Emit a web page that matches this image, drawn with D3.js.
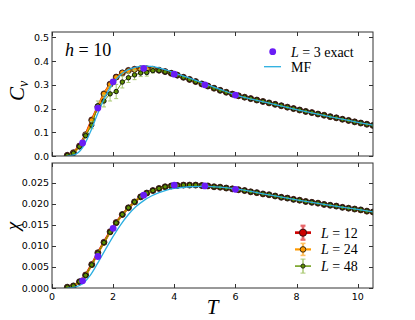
<!DOCTYPE html>
<html><head><meta charset="utf-8">
<script src="https://cdn.jsdelivr.net/npm/d3@7"></script>
<style>body{margin:0;background:#fff}svg{display:block}</style>
</head><body>
<svg id="c" width="415" height="320"></svg>
<script>
// ---------- data ----------
const tMC = [0.5,0.7,0.9,1.1,1.3,1.5,1.7,1.9,2.1,2.3,2.5,2.7,2.9,3.1,3.3,3.5,3.7,3.9,4.1,4.3,4.5,4.7,4.9,5.1,5.3,5.5,5.7,5.9,6.1,6.3,6.5,6.7,6.9,7.1,7.3,7.5,7.7,7.9,8.1,8.3,8.5,8.7,8.9,9.1,9.3,9.5,9.7,9.9,10.1,10.3,10.5];
const cvL12 = [0.003,0.014,0.042,0.090,0.152,0.208,0.262,0.303,0.333,0.350,0.361,0.366,0.368,0.368,0.366,0.362,0.356,0.349,0.341,0.332,0.323,0.314,0.304,0.295,0.286,0.277,0.269,0.261,0.254,0.248,0.242,0.236,0.230,0.224,0.218,0.212,0.206,0.200,0.194,0.188,0.183,0.177,0.172,0.166,0.161,0.155,0.150,0.144,0.139,0.134,0.129];
const cvL24 = [0.002,0.013,0.040,0.088,0.150,0.207,0.262,0.302,0.332,0.352,0.360,0.364,0.366,0.367,0.366,0.362,0.356,0.349,0.341,0.332,0.323,0.314,0.304,0.295,0.286,0.277,0.269,0.261,0.254,0.248,0.242,0.236,0.230,0.224,0.218,0.212,0.206,0.200,0.194,0.188,0.183,0.177,0.172,0.166,0.161,0.155,0.150,0.144,0.139,0.134,0.129];
const cvL48 = [0.002,0.012,0.040,0.086,0.130,0.212,0.232,0.262,0.272,0.312,0.330,0.342,0.350,0.352,0.360,0.360,0.355,0.349,0.341,0.332,0.323,0.314,0.304,0.295,0.286,0.277,0.269,0.261,0.254,0.248,0.242,0.236,0.230,0.224,0.218,0.212,0.206,0.200,0.194,0.188,0.183,0.177,0.172,0.166,0.161,0.155,0.150,0.144,0.139,0.134,0.129];
const cvErr48 = [0.002,0.004,0.006,0.010,0.015,0.020,0.025,0.030,0.030,0.025,0.020,0.020,0.015,0.015,0.010,0.006,0.004,0.003,0.003,0.003,0.003,0.003,0.003,0.003,0.003,0.003,0.003,0.003,0.003,0.003,0.003,0.003,0.003,0.003,0.003,0.003,0.003,0.003,0.003,0.003,0.003,0.003,0.003,0.003,0.003,0.003,0.003,0.003,0.003,0.003,0.003];
const chiL12 = [0.0002,0.0005,0.0015,0.0031,0.0056,0.0084,0.0109,0.0134,0.0156,0.0175,0.0191,0.0205,0.0217,0.0226,0.0232,0.0237,0.0241,0.0243,0.0244,0.0245,0.0245,0.0245,0.0244,0.0243,0.0241,0.0240,0.0238,0.0236,0.0234,0.0232,0.0229,0.0227,0.0224,0.0222,0.0219,0.0216,0.0214,0.0211,0.0209,0.0206,0.0204,0.0202,0.0199,0.0197,0.0195,0.0192,0.0190,0.0188,0.0186,0.0183,0.0181];
const chiL24 = [0.0002,0.0005,0.0015,0.0030,0.0055,0.0083,0.0108,0.0133,0.0155,0.0175,0.0191,0.0205,0.0217,0.0226,0.0232,0.0237,0.0241,0.0243,0.0244,0.0245,0.0245,0.0245,0.0244,0.0243,0.0241,0.0240,0.0238,0.0236,0.0234,0.0232,0.0229,0.0227,0.0224,0.0222,0.0219,0.0216,0.0214,0.0211,0.0209,0.0206,0.0204,0.0202,0.0199,0.0197,0.0195,0.0192,0.0190,0.0188,0.0186,0.0183,0.0181];
const chiL48 = [0.0002,0.0005,0.0015,0.0030,0.0055,0.0083,0.0108,0.0133,0.0155,0.0175,0.0191,0.0205,0.0217,0.0226,0.0232,0.0237,0.0241,0.0243,0.0244,0.0245,0.0245,0.0245,0.0244,0.0243,0.0241,0.0240,0.0238,0.0236,0.0234,0.0232,0.0229,0.0227,0.0224,0.0222,0.0219,0.0216,0.0214,0.0211,0.0209,0.0206,0.0204,0.0202,0.0199,0.0197,0.0195,0.0192,0.0190,0.0188,0.0186,0.0183,0.0181];
const tExact = [1,1.5,2,3,4,5,6];
const cvExact = [0.055,0.202,0.313,0.370,0.345,0.300,0.257];
const chiExact = [0.0017,0.0075,0.0142,0.0221,0.0245,0.0243,0.0235];
const tMF = [0.5,0.75,1.0,1.25,1.5,1.75,2.0,2.25,2.5,2.75,3.0,3.25,3.5,3.75,4.0,4.5,5.0,5.5,6.0,7.0,8.0,9.0,10.0,10.5];
const cvMF = [0.0,0.006,0.035,0.100,0.180,0.252,0.308,0.344,0.364,0.375,0.379,0.378,0.372,0.362,0.351,0.328,0.305,0.281,0.258,0.226,0.196,0.168,0.142,0.130];
const chiMF = [0.0,0.0002,0.0010,0.0030,0.0060,0.0092,0.0123,0.0151,0.0175,0.0194,0.0208,0.0219,0.0227,0.0233,0.0237,0.0241,0.0242,0.0240,0.0236,0.0223,0.0210,0.0198,0.0187,0.0181];
const xTicks = [0,2,4,6,8,10];
const cvTicks = [0.0,0.1,0.2,0.3,0.4,0.5];
const chiTicks = [0.000,0.005,0.010,0.015,0.020,0.025];
const legendTop = [["L"," = 3 exact"],["","MF"]];
const legendBottom = [["L"," = 12"],["L"," = 24"],["L"," = 48"]];

// ---------- styles ----------
const C = {red:"#cc0000", redE:"#e8666a", orange:"#ff9a00", orangeE:"#ffc060", green:"#5f9000", greenE:"#a8c870", purple:"#6a1cf5", cyan:"#2aaee0"};
const svg = d3.select("#c");
const L = 52, R = 373;
const x = d3.scaleLinear().domain([0,10.5]).range([L,R]);
const panels = [
  {top:32, bot:156, y:d3.scaleLinear().domain([0,0.523]).range([156,32]), ticks:cvTicks, fmt:d3.format(".1f"), showX:false,
   series:[cvL12,cvL24,cvL48], err:cvErr48, exact:cvExact, mf:cvMF},
  {top:163, bot:288, y:d3.scaleLinear().domain([0,0.02976]).range([288,163]), ticks:chiTicks, fmt:d3.format(".3f"), showX:true,
   series:[chiL12,chiL24,chiL48], err:null, exact:chiExact, mf:chiMF}
];
const tickFont = "DejaVu Sans, sans-serif";
const styles = [
  {line:C.red, lw:2.4, fill:C.red, r:3.0, lr:3.6, ecol:C.redE, ew:2.2},
  {line:C.orange, lw:1.8, fill:C.orange, r:2.6, lr:2.8, ecol:C.orangeE, ew:1.6},
  {line:C.green, lw:1.0, fill:C.green, r:2.2, lr:2.1, ecol:C.greenE, ew:1.0}
];

panels.forEach((p,pi)=>{
  const g = svg.append("g");
  const clipId = "clip"+pi;
  svg.append("clipPath").attr("id",clipId).append("rect").attr("x",L).attr("y",p.top).attr("width",R-L).attr("height",p.bot-p.top);
  const pg = g.append("g").attr("clip-path",`url(#${clipId})`);
  p.series.forEach((vals,si)=>{
    const st = styles[si];
    const pts = tMC.map((t,i)=>({t, v:vals[i], e: (si===2 && p.err) ? p.err[i] : 0}));
    if (p.err) {
      pts.forEach(d=>{
        const y1 = p.y(d.v - d.e), y2 = p.y(d.v + d.e), xx = x(d.t);
        if (Math.abs(y1-y2) < 3) return;
        pg.append("line").attr("x1",xx).attr("x2",xx).attr("y1",y1).attr("y2",y2).attr("stroke",st.ecol).attr("stroke-width",st.ew);
        [y1,y2].forEach(yy=>pg.append("line").attr("x1",xx-2).attr("x2",xx+2).attr("y1",yy).attr("y2",yy).attr("stroke",st.ecol).attr("stroke-width",st.ew));
      });
    }
    pg.append("path").datum(pts).attr("fill","none").attr("stroke",st.line).attr("stroke-width",st.lw)
      .attr("d",d3.line().x(d=>x(d.t)).y(d=>p.y(d.v)));
    pg.selectAll(null).data(pts).enter().append("circle")
      .attr("cx",d=>x(d.t)).attr("cy",d=>p.y(d.v)).attr("r",st.r)
      .attr("fill",st.fill).attr("stroke","#111").attr("stroke-width",si===2?1.0:0.7);
  });
  pg.append("path").datum(tMF.map((t,i)=>({t,v:p.mf[i]}))).attr("fill","none").attr("stroke",C.cyan).attr("stroke-width",1.3)
    .attr("d",d3.line().curve(d3.curveMonotoneX).x(d=>x(d.t)).y(d=>p.y(d.v)));
  pg.selectAll(null).data(tExact.map((t,i)=>({t,v:p.exact[i]}))).enter().append("circle")
    .attr("cx",d=>x(d.t)).attr("cy",d=>p.y(d.v)).attr("r",3.4).attr("fill",C.purple).attr("stroke","none");

  g.append("rect").attr("x",L).attr("y",p.top).attr("width",R-L).attr("height",p.bot-p.top)
    .attr("fill","none").attr("stroke","#333").attr("stroke-width",1);
  xTicks.forEach(t=>{
    const xx = Math.round(x(t))+0.5;
    g.append("line").attr("x1",xx).attr("x2",xx).attr("y1",p.bot).attr("y2",p.bot-4).attr("stroke","#333");
    g.append("line").attr("x1",xx).attr("x2",xx).attr("y1",p.top).attr("y2",p.top+4).attr("stroke","#333");
    if (p.showX) g.append("text").attr("x",x(t)).attr("y",p.bot+12).attr("text-anchor","middle")
      .attr("font-family",tickFont).attr("font-size",9.5).text(t);
  });
  p.ticks.forEach(t=>{
    const yy = Math.round(p.y(t))+0.5;
    g.append("line").attr("x1",L).attr("x2",L+4).attr("y1",yy).attr("y2",yy).attr("stroke","#333");
    g.append("line").attr("x1",R).attr("x2",R-4).attr("y1",yy).attr("y2",yy).attr("stroke","#333");
    g.append("text").attr("x",L-3).attr("y",p.y(t)+3.5).attr("text-anchor","end")
      .attr("font-family",tickFont).attr("font-size",9.5).text(p.fmt(t));
  });
});

const serif = "Liberation Serif, DejaVu Serif, serif";
const cv = svg.append("text").attr("transform","translate(24,91) rotate(-90)").attr("text-anchor","middle")
  .attr("font-family",serif).attr("font-style","italic").attr("font-size",21);
cv.append("tspan").text("C");
cv.append("tspan").attr("font-size",14).attr("dy",4).text("v");
svg.append("text").attr("transform","translate(19,226) rotate(-90)").attr("text-anchor","middle")
  .attr("font-family",serif).attr("font-style","italic").attr("font-size",19).text("χ");
svg.append("text").attr("x",212.5).attr("y",314).attr("text-anchor","middle")
  .attr("font-family",serif).attr("font-style","italic").attr("font-size",21).text("T");
const h = svg.append("text").attr("x",65).attr("y",56).attr("font-family",serif).attr("font-size",18);
h.append("tspan").attr("font-style","italic").text("h");
h.append("tspan").text(" = 10");

function legText(xp, yp, parts){
  const t = svg.append("text").attr("x",xp).attr("y",yp).attr("font-family",serif).attr("font-size",14);
  if (parts[0]) t.append("tspan").attr("font-style","italic").text(parts[0]);
  t.append("tspan").text(parts[1]);
}
svg.append("circle").attr("cx",272.7).attr("cy",51.7).attr("r",3.4).attr("fill",C.purple);
legText(291,56.5,legendTop[0]);
svg.append("line").attr("x1",264).attr("x2",281).attr("y1",66.7).attr("y2",66.7).attr("stroke",C.cyan).attr("stroke-width",1.3);
legText(291,71.5,legendTop[1]);

legendBottom.forEach((s,i)=>{
  const st = styles[i];
  const cy = 232.7 + i*16.7, cx = 303;
  const eh = [7,6,7][i];
  svg.append("line").attr("x1",cx-8).attr("x2",cx+8).attr("y1",cy).attr("y2",cy).attr("stroke",st.ecol).attr("stroke-width",st.ew+0.5);
  svg.append("line").attr("x1",cx).attr("x2",cx).attr("y1",cy-eh).attr("y2",cy+eh).attr("stroke",st.ecol).attr("stroke-width",st.ew+0.5);
  [cy-eh,cy+eh].forEach(yy=>svg.append("line").attr("x1",cx-2.5).attr("x2",cx+2.5).attr("y1",yy).attr("y2",yy).attr("stroke",st.ecol).attr("stroke-width",st.ew));
  svg.append("line").attr("x1",cx-8).attr("x2",cx+8).attr("y1",cy).attr("y2",cy).attr("stroke",st.line).attr("stroke-width",st.lw);
  svg.append("circle").attr("cx",cx).attr("cy",cy).attr("r",st.lr).attr("fill",st.fill).attr("stroke","#111").attr("stroke-width",0.8);
  legText(321,cy+5,s);
});
</script>
</body></html>
